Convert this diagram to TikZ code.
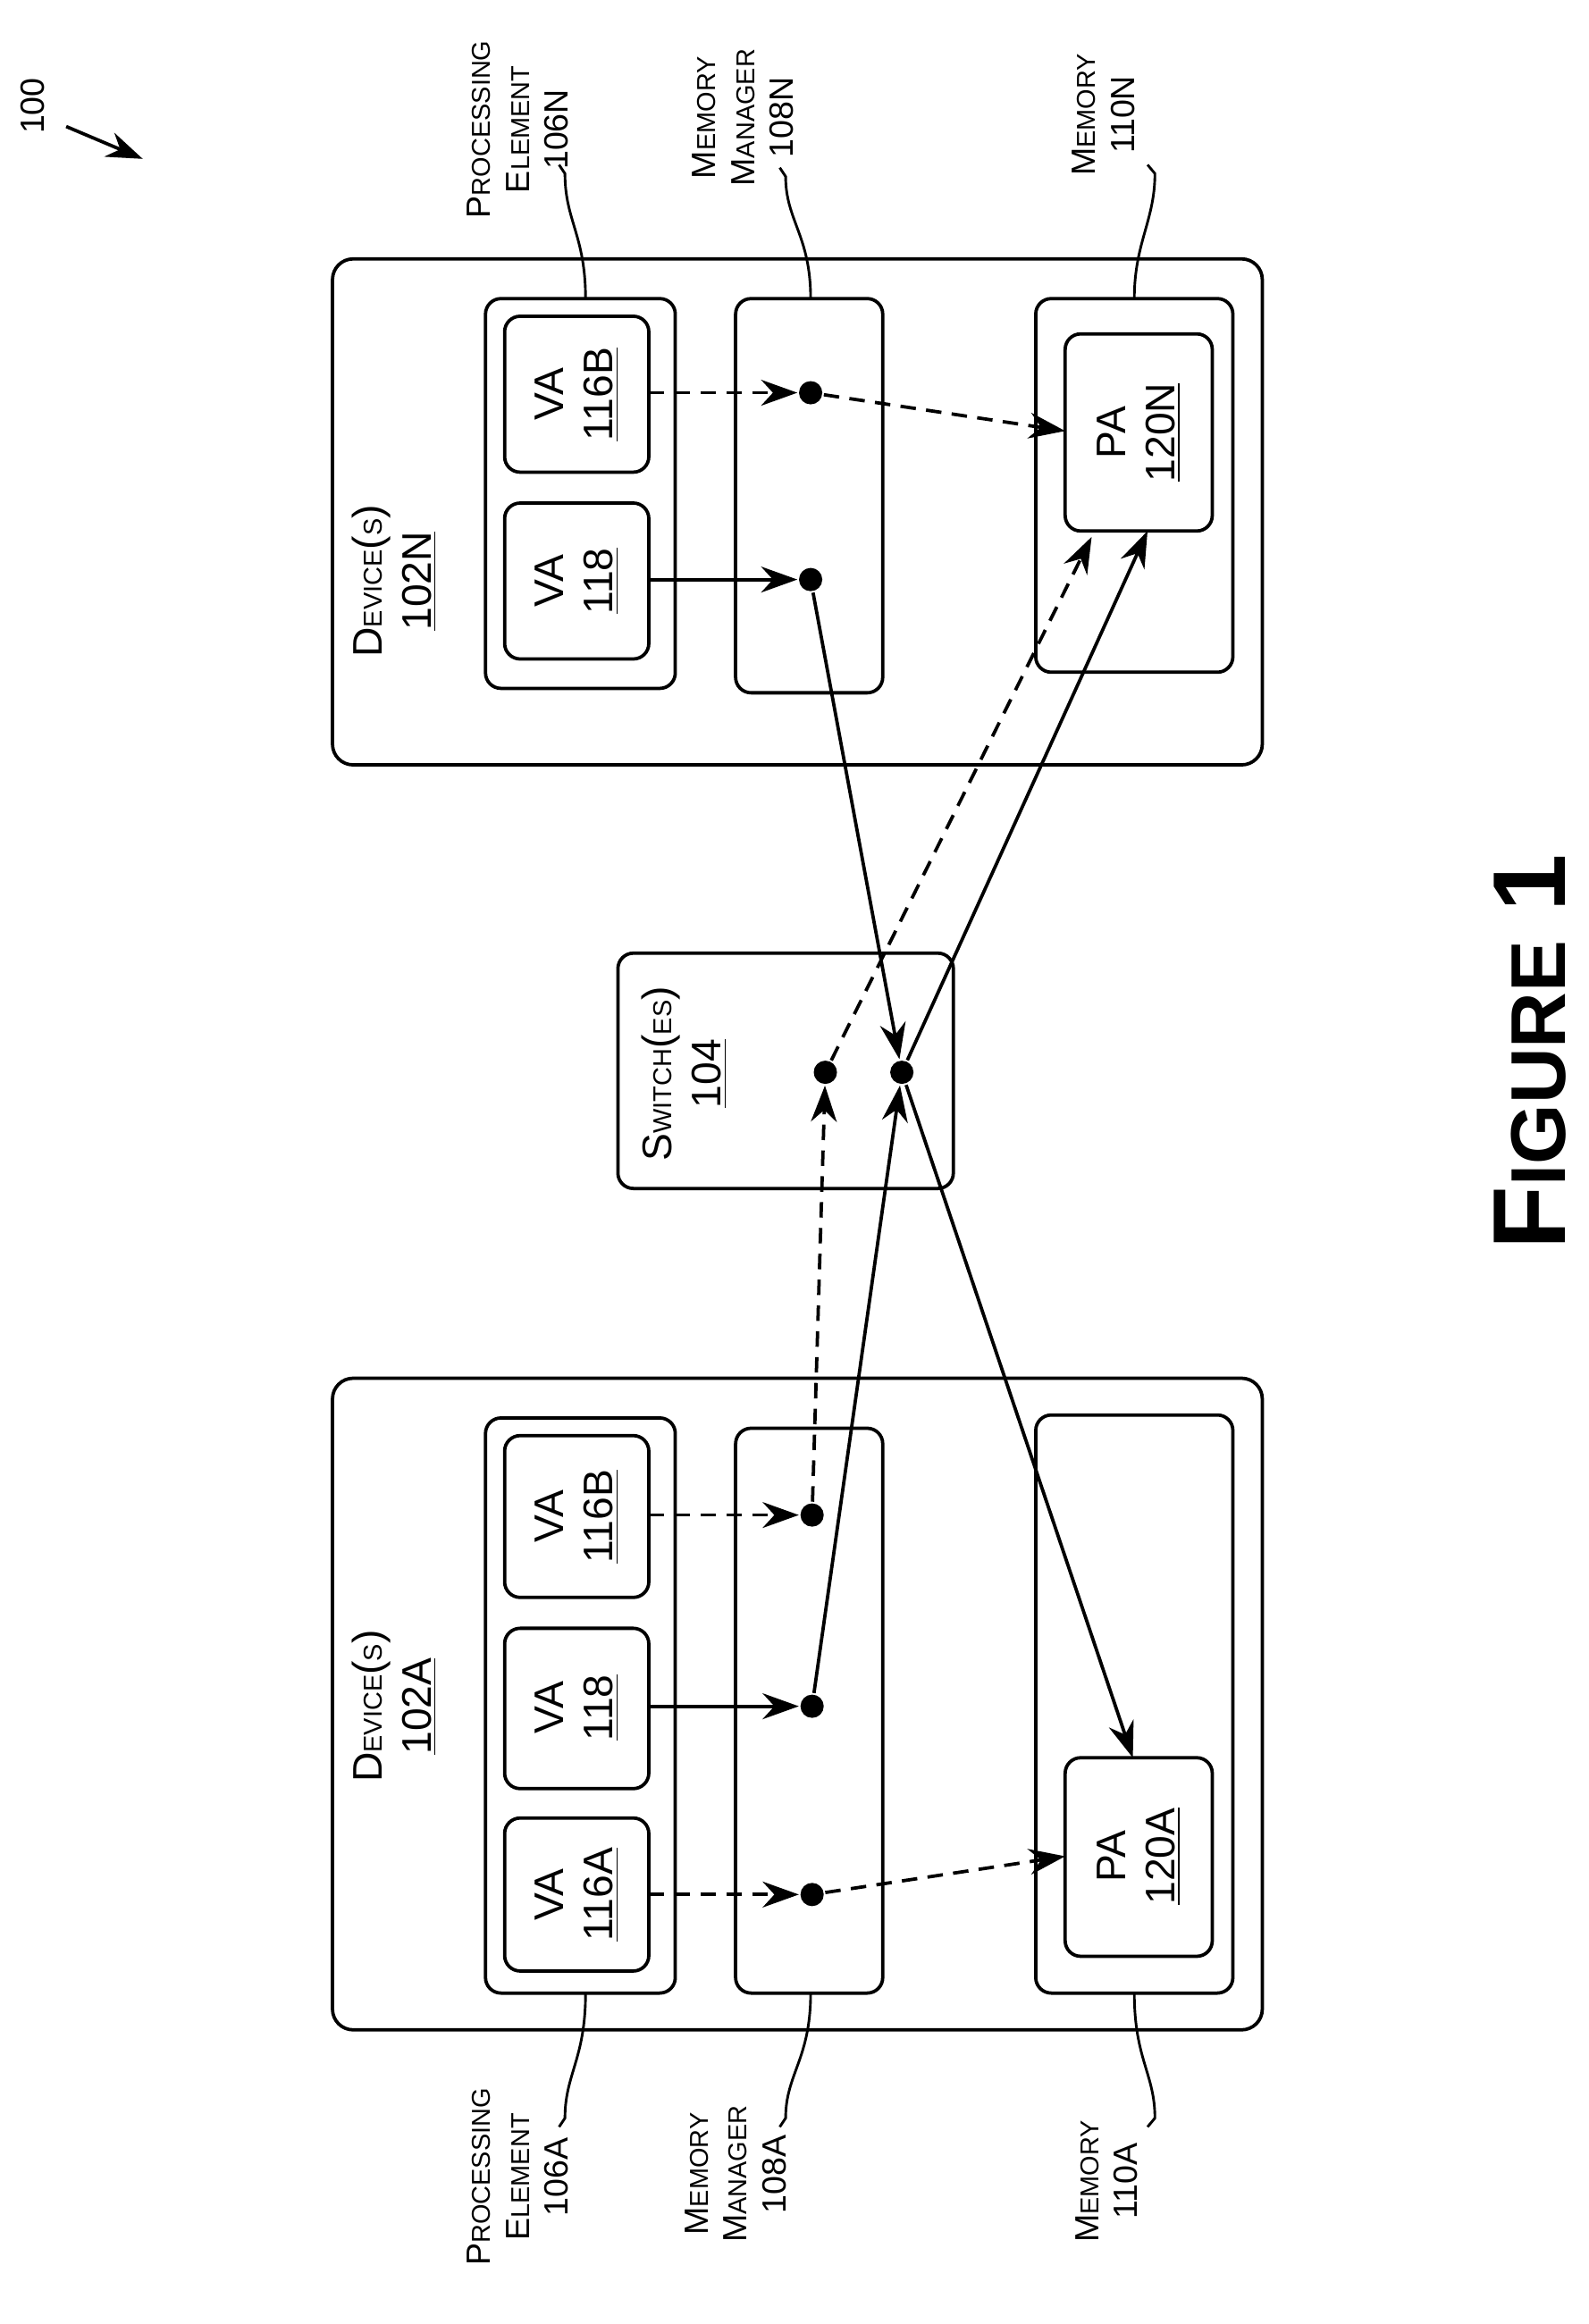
\documentclass[tikz,border=0pt]{standalone}
\usepackage{fontspec}
\setmainfont{Liberation Sans}
\usetikzlibrary{arrows.meta}
\newcommand{\sk}[2]{#1{\fontsize{10}{12}\selectfont #2}}
\begin{document}
\begin{tikzpicture}[x=0.02cm,y=-0.02cm,line width=1.3pt,
  box/.style={draw,rounded corners=8pt},
  ibox/.style={draw,rounded corners=6pt},
  lab/.style={rotate=90,align=center,font=\fontsize{16}{19}\selectfont},
  olab/.style={rotate=90,align=center,font=\fontsize{13}{15}\selectfont},
  dot/.style={circle,fill,inner sep=0pt,minimum size=9pt},
  arr/.style={-{Stealth[length=14pt,width=10pt]}},
  dsh/.style={dash pattern=on 6pt off 4pt}]
\useasboundingbox (0,0) rectangle (1080,1580);
% device N
\draw[box] (226,176) rectangle (858,520);
\draw[ibox] (330,203) rectangle (459,468);
\draw[ibox] (343,215) rectangle (441,321);
\draw[ibox] (343,342) rectangle (441,448);
\draw[ibox] (500,203) rectangle (600,471);
\draw[ibox] (704,203) rectangle (838,457);
\draw[ibox] (724,227) rectangle (824,361);
\node[lab] at (392,268) {VA\\\underline{116B}};
\node[lab] at (392,395) {VA\\\underline{118}};
\node[lab] at (774,294) {PA\\\underline{120N}};
\node[lab] at (268,395) {\sk{D}{EVICE}(\sk{}{S})\\\underline{102N}};
% switch
\draw[ibox] (420,648) rectangle (648,808);
\node[lab] at (465,730) {\sk{S}{WITCH}(\sk{}{ES})\\\underline{104}};
% device A
\draw[box] (226,937) rectangle (858,1380);
\draw[ibox] (330,964) rectangle (459,1355);
\draw[ibox] (343,976) rectangle (441,1086);
\draw[ibox] (343,1107) rectangle (441,1216);
\draw[ibox] (343,1236) rectangle (441,1340);
\draw[ibox] (500,971) rectangle (600,1355);
\draw[ibox] (704,962) rectangle (838,1355);
\draw[ibox] (724,1195) rectangle (824,1330);
\node[lab] at (392,1031) {VA\\\underline{116B}};
\node[lab] at (392,1161) {VA\\\underline{118}};
\node[lab] at (392,1288) {VA\\\underline{116A}};
\node[lab] at (774,1262) {PA\\\underline{120A}};
\node[lab] at (268,1160) {\sk{D}{EVICE}(\sk{}{S})\\\underline{102A}};
% dots
\node[dot] (n1) at (551,267) {};
\node[dot] (n2) at (551,394) {};
\node[dot] (s1) at (561,729) {};
\node[dot] (s2) at (613,729) {};
\node[dot] (a1) at (552,1030) {};
\node[dot] (a2) at (552,1160) {};
\node[dot] (a3) at (552,1288) {};
\coordinate (pn1) at (724,293);
\coordinate (pn2) at (742,365);
\coordinate (pn3) at (780,361);
\coordinate (pa1) at (770,1195);
\coordinate (pa2) at (724,1262);
% arrows
\draw[arr,dsh] (441,267) -- (n1);
\draw[arr,dsh] (n1) -- (pn1);
\draw[arr] (441,394) -- (n2);
\draw[arr] (n2) -- (s2);
\draw[arr] (s2) -- (pa1);
\draw[arr] (a2) -- (s2);
\draw[arr] (s2) -- (pn3);
\draw[arr,dsh] (a1) -- (s1);
\draw[arr,dsh] (s1) -- (pn2);
\draw[arr,dsh] (441,1030) -- (a1);
\draw[arr] (441,1160) -- (a2);
\draw[arr,dsh] (441,1288) -- (a3);
\draw[arr,dsh] (a3) -- (pa2);
% outer labels top
\node[olab] (l1) at (352,88) {\sk{P}{ROCESSING}\\\sk{E}{LEMENT}\\106N};
\node[olab] (l2) at (505,80) {\sk{M}{EMORY}\\\sk{M}{ANAGER}\\108N};
\node[olab] (l3) at (750,78) {\sk{M}{EMORY}\\110N};
\draw[line width=1pt] (398,203) .. controls (398,160) and (384,150) .. (384,118) -- (380,112);
\draw[line width=1pt] (551,203) .. controls (551,160) and (534,150) .. (534,120) -- (530,114);
\draw[line width=1pt] (771,203) .. controls (771,165) and (785,150) .. (785,118) -- (780,112);
% outer labels bottom
\node[olab] (l4) at (352,1480) {\sk{P}{ROCESSING}\\\sk{E}{LEMENT}\\106A};
\node[olab] (l5) at (500,1478) {\sk{M}{EMORY}\\\sk{M}{ANAGER}\\108A};
\node[olab] (l6) at (752,1483) {\sk{M}{EMORY}\\110A};
\draw[line width=1pt] (398,1355) .. controls (398,1400) and (384,1410) .. (384,1440) -- (380,1446);
\draw[line width=1pt] (551,1355) .. controls (551,1400) and (534,1410) .. (534,1440) -- (530,1446);
\draw[line width=1pt] (771,1355) .. controls (771,1400) and (785,1410) .. (785,1440) -- (780,1446);
% 100
\node[olab] (h) at (22,72) {100};
\coordinate (h1) at (45,86);
\coordinate (h2) at (97,108);
\draw[arr] (h1) -- (h2);
% figure
\node[rotate=90,font=\bfseries\fontsize{40}{48}\selectfont] (fig) at (1040,715) {F{\fontsize{30}{36}\selectfont IGURE} 1};
\end{tikzpicture}
\end{document}
